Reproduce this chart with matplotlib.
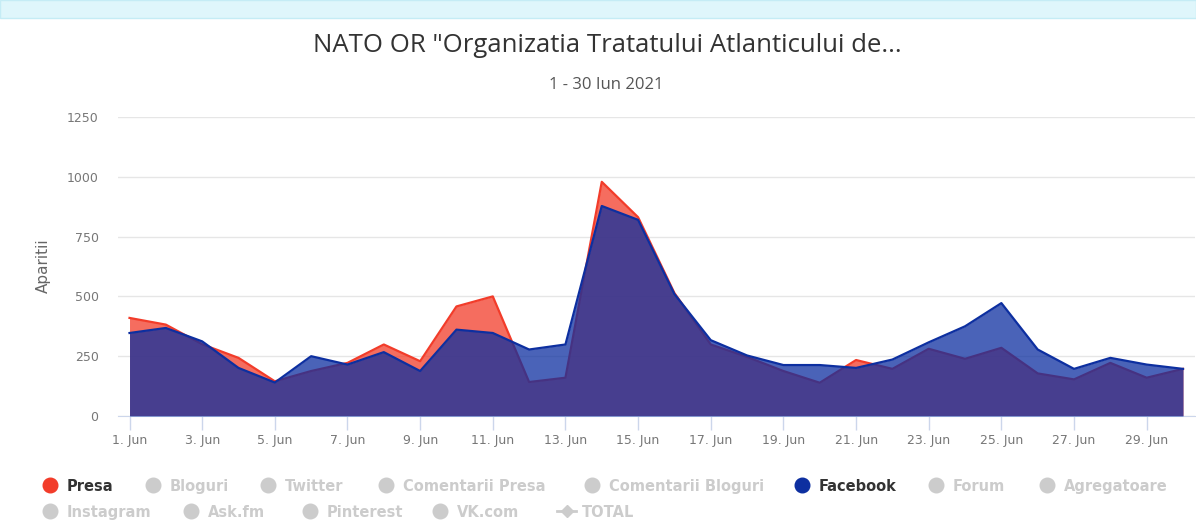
import matplotlib.pyplot as plt
from matplotlib.lines import Line2D
from matplotlib.patches import Rectangle

# daily mentions, 1-30 June 2021
days = list(range(1, 31))
presa = [410, 382, 300, 243, 145, 188, 222, 299, 229, 458,
         500, 142, 160, 979, 831, 514, 299, 247, 188, 139,
         234, 197, 281, 239, 285, 178, 153, 222, 160, 197]
facebook = [347, 368, 312, 201, 140, 250, 215, 267, 188, 361,
            347, 278, 299, 878, 820, 510, 317, 253, 213, 213,
            201, 236, 308, 375, 472, 278, 197, 243, 215, 197]
tick_days = list(range(1, 31, 2))
tick_labels = [f"{d}. Jun" for d in tick_days]
y_ticks = [0, 250, 500, 750, 1000, 1250]

legend_row1 = [("Presa", "#f23c2a", True), ("Bloguri", None, False),
               ("Twitter", None, False), ("Comentarii Presa", None, False),
               ("Comentarii Bloguri", None, False), ("Facebook", "#0d2fa0", True),
               ("Forum", None, False), ("Agregatoare", None, False)]
legend_row2 = ["Instagram", "Ask.fm", "Pinterest", "VK.com"]

W, H = 1196, 522
fig = plt.figure(figsize=(W / 100, H / 100), dpi=100)
fig.patch.set_facecolor("white")

# light band at the top of the page
fig.add_artist(Rectangle((0, 1 - 18 / H), 1, 18 / H, transform=fig.transFigure,
                         facecolor="#dff6fb", edgecolor="#c5ecf5", lw=1))

ax = fig.add_axes([118 / W, 1 - 416 / H, (1195 - 118) / W, (416 - 117) / H])

red_fill = "#f23c2a"
blue_fill = "#0d2fa0"
ax.fill_between(days, presa, 0, color=red_fill, alpha=0.75, lw=0, zorder=2)
ax.plot(days, presa, color=red_fill, lw=1.6, zorder=3)
ax.fill_between(days, facebook, 0, color=blue_fill, alpha=0.75, lw=0, zorder=4)
ax.plot(days, facebook, color=blue_fill, lw=1.6, zorder=5)

tick_font = dict(fontsize=9, color="#777777", family="DejaVu Sans")
ax.set_xlim(0.683, 30.33)
ax.set_ylim(0, 1250)
ax.set_yticks(y_ticks)
ax.set_yticklabels([str(v) for v in y_ticks], **tick_font)
ax.set_xticks(tick_days)
ax.set_xticklabels(tick_labels, **tick_font)
ax.tick_params(axis="y", length=0, pad=14)
ax.tick_params(axis="x", length=10, color="#ccd6eb", width=1, pad=3)
ax.grid(axis="y", color="#e6e6e6", lw=1, zorder=0)
for s in ["top", "right", "left"]:
    ax.spines[s].set_visible(False)
ax.spines["bottom"].set_color("#ccd6eb")
ax.set_axisbelow(True)

fig.text(43 / W, 1 - 266 / H, "Aparitii", rotation=90, ha="center", va="center",
         fontsize=11, color="#666666", family="DejaVu Sans")

fig.text(607 / W, 1 - 46 / H, 'NATO OR "Organizatia Tratatului Atlanticului de...',
         ha="center", va="center", fontsize=18.5, color="#333333", family="Open Sans")
fig.text(606 / W, 1 - 85 / H, "1 - 30 Iun 2021", ha="center", va="center",
         fontsize=12, color="#555555", family="Open Sans")

# legend, drawn by hand to keep the two-row layout
row1_x = [50, 153, 268, 386, 592, 802, 936, 1047]
row2_x = [50, 191, 310, 440]
grey = "#cccccc"


def legend_item(x, y, label, color, active):
    c = color if active else grey
    fig.add_artist(Line2D([x / W], [1 - y / H], marker="o", markersize=10.5,
                          color=c, transform=fig.transFigure, ls="none"))
    fig.text((x + 17) / W, 1 - y / H, label, ha="left", va="center_baseline",
             fontsize=10.5, fontweight="bold",
             color="#333333" if active else grey, family="DejaVu Sans")


for x, (label, color, active) in zip(row1_x, legend_row1):
    legend_item(x, 485, label, color, active)
for x, label in zip(row2_x, legend_row2):
    legend_item(x, 511, label, None, False)

# TOTAL series (line type)
fig.add_artist(Line2D([557 / W, 576 / W], [1 - 511 / H, 1 - 511 / H], color=grey,
                      lw=2, transform=fig.transFigure))
fig.add_artist(Line2D([566.5 / W], [1 - 511 / H], marker="D", markersize=6,
                      color=grey, ls="none", transform=fig.transFigure))
fig.text(582 / W, 1 - 511 / H, "TOTAL", ha="left", va="center_baseline", fontsize=10.5,
         fontweight="bold", color=grey, family="DejaVu Sans")

fig.savefig("out.png", dpi=100)
